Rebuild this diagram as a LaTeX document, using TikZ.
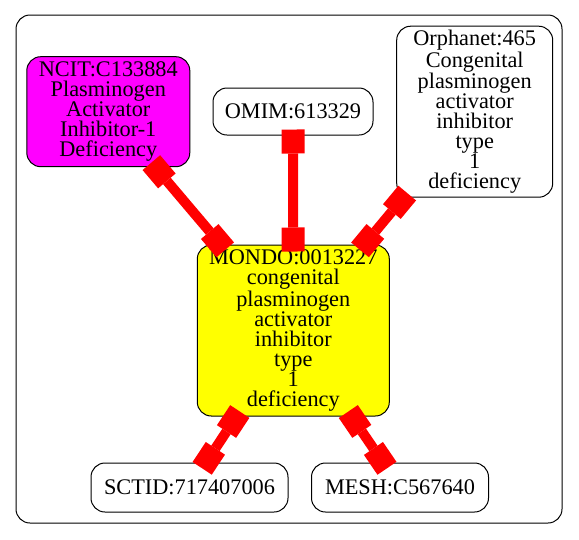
\documentclass[tikz,border=0pt]{standalone}
\usepackage{fontspec}
\setmainfont{Liberation Serif}
\usetikzlibrary{arrows.meta}
\definecolor{nodemag}{RGB}{255,0,255}
\definecolor{nodeyel}{RGB}{255,255,0}
\definecolor{linkred}{RGB}{255,0,0}
\begin{document}
\begin{tikzpicture}[x=1pt,y=-1pt,
  nd/.style={draw=black, line width=1pt, rounded corners=14pt, inner sep=0pt, align=center,
    font=\fontsize{22.3}{20}\selectfont},
  sq/.tip={Square[length=24pt,width=23pt,line width=0pt]},
  lnk/.style={draw=linkred, line width=10pt, {sq}-{sq}, shorten <=-6pt, shorten >=-7pt}]
\useasboundingbox (0,0) rectangle (579,539);
\draw[line width=1pt, rounded corners=14pt] (16,15) rectangle (562,523);
\node[nd, fill=nodemag, minimum width=163pt, minimum height=110pt] (ncit) at (108.3,111.7)
  {NCIT:C133884\\Plasminogen\\Activator\\Inhibitor-1\\Deficiency};
\node[nd, fill=white, minimum width=160pt, minimum height=47pt] (omim) at (293,111.5) {OMIM:613329};
\node[nd, fill=white, minimum width=156pt, minimum height=171pt] (orpha) at (474.7,111.7)
  {Orphanet:465\\Congenital\\plasminogen\\activator\\inhibitor\\type\\1\\deficiency};
\node[nd, fill=nodeyel, minimum width=192pt, minimum height=171pt] (mondo) at (293.3,330.5)
  {MONDO:0013227\\congenital\\plasminogen\\activator\\inhibitor\\type\\1\\deficiency};
\node[nd, fill=white, minimum width=197pt, minimum height=49pt] (sctid) at (189.5,487.5) {SCTID:717407006};
\node[nd, fill=white, minimum width=177pt, minimum height=49pt] (mesh) at (400,487.5) {MESH:C567640};
\draw[lnk] (ncit) -- (mondo);
\draw[lnk] (omim) -- (mondo);
\draw[lnk] (orpha) -- (mondo);
\draw[lnk] (mondo) -- (sctid);
\draw[lnk] (mondo) -- (mesh);
\end{tikzpicture}
\end{document}
